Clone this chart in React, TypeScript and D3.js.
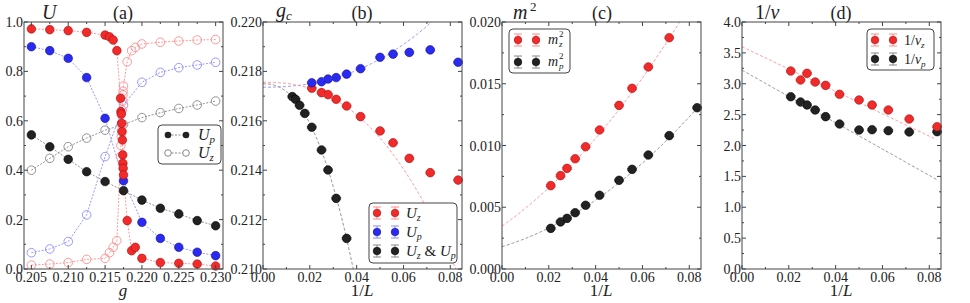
import React from 'react';
import * as d3 from 'd3';

// ---------- Panel (a) data ----------
const gA = [0.205, 0.2075, 0.21, 0.2125, 0.215, 0.2175, 0.22, 0.2225, 0.225, 0.2275, 0.23];
const blackUp = [0.543, 0.495, 0.444, 0.394, 0.354, 0.317, 0.279, 0.246, 0.223, 0.196, 0.175];
const blackUz = [0.4, 0.448, 0.495, 0.53, 0.562, 0.585, 0.613, 0.633, 0.65, 0.664, 0.68];
const blueUp = [0.9, 0.884, 0.853, 0.775, 0.61, 0.357, 0.189, 0.124, 0.088, 0.068, 0.054];
const blueUz = [0.066, 0.081, 0.111, 0.219, 0.455, 0.664, 0.756, 0.796, 0.815, 0.826, 0.837];
const gRed = [0.205, 0.2075, 0.21, 0.2125, 0.215, 0.2156, 0.2161, 0.2166, 0.2171, 0.21715, 0.2172, 0.21725, 0.2173,
  0.21735, 0.2174, 0.21742, 0.21745, 0.2175, 0.218, 0.2186, 0.2191, 0.22, 0.2225, 0.225, 0.2275, 0.23];
const redUp = [0.972, 0.969, 0.965, 0.958, 0.947, 0.94, 0.927, 0.884, 0.691, 0.637, 0.627, 0.59, 0.556, 0.522, 0.462,
  0.428, 0.408, 0.381, 0.196, 0.074, 0.088, 0.043, 0.026, 0.023, 0.02, 0.012];
const redUz = [0.016, 0.02, 0.026, 0.039, 0.043, 0.066, 0.088, 0.115, 0.455, 0.5, 0.536, 0.56, 0.583, 0.644, 0.68,
  0.705, 0.72, 0.741, 0.839, 0.884, 0.897, 0.911, 0.918, 0.923, 0.927, 0.929];

// ---------- Panel (b) data ----------
const Lb = [48, 40, 36, 32, 28, 24, 20, 18, 16, 14, 12];
const gcBlue = [0.21754, 0.21758, 0.21769, 0.21775, 0.21789, 0.21811, 0.21857, 0.2187, 0.21877, 0.21887, 0.21837];
const gcRed = [0.21732, 0.21714, 0.21706, 0.21687, 0.2166, 0.21617, 0.21559, 0.21511, 0.21448, 0.2139, 0.2136];
const Lblack = [80, 72, 64, 56, 48, 40, 36, 32, 28];
const gcBlack = [0.21698, 0.21687, 0.21663, 0.2163, 0.21574, 0.21482, 0.21401, 0.21286, 0.21124];
// fit curves: [gc, amplitude, exponent]
const fitBRed = [0.21756, -3.18, 2.42];
const fitBBlue = [0.21736, 1.136, 2.305];
const fitBBlack = [0.2175, -15.78, 2.35];

// ---------- Panel (c) data ----------
const Lc = [48, 40, 36, 32, 28, 24, 20, 18, 16, 14, 12];
const m2z = [0.00675, 0.00756, 0.00815, 0.00893, 0.0099, 0.01126, 0.01325, 0.01463, 0.01636, 0.01873];
const m2p = [0.00329, 0.00381, 0.0041, 0.00456, 0.00516, 0.00597, 0.00718, 0.00807, 0.00923, 0.0108, 0.01306];
// quadratic fits: [a, b, c]
const fitCRed = [0.00348, 0.1331, 1.1155];
const fitCBlack = [0.00181, 0.057, 0.93];

// ---------- Panel (d) data ----------
const Ld = [48, 40, 36, 32, 28, 24, 20, 18, 16, 14, 12];
const nuZ = [3.206, 3.061, 3.169, 3.028, 2.974, 2.829, 2.737, 2.656, 2.575, 2.429, 2.304];
const nuP = [2.79, 2.704, 2.656, 2.575, 2.467, 2.348, 2.251, 2.256, 2.24, 2.219, 2.224];
// linear fits: [a, b]
const fitDRed = [3.6, -18.1];
const fitDBlack = [3.22, -21.3];

// ---------- tick labels ----------
const ticksAx = [0.205, 0.21, 0.215, 0.22, 0.225, 0.23];
const ticksAxMinor = [0.2075, 0.2125, 0.2175, 0.2225, 0.2275];
const ticksAy = [0, 0.2, 0.4, 0.6, 0.8, 1.0];
const ticksAyMinor = [0.1, 0.3, 0.5, 0.7, 0.9];
const ticksLx = [0, 0.02, 0.04, 0.06, 0.08];
const ticksLxMinor = [0.01, 0.03, 0.05, 0.07];
const ticksBy = [0.21, 0.212, 0.214, 0.216, 0.218, 0.22];
const ticksByMinor = [0.211, 0.213, 0.215, 0.217, 0.219];
const ticksCy = [0, 0.005, 0.01, 0.015, 0.02];
const ticksCyMinor = [0.0025, 0.0075, 0.0125, 0.0175];
const ticksDy = [0, 0.5, 1, 1.5, 2, 2.5, 3, 3.5, 4];
const ticksDyMinor = [0.25, 0.75, 1.25, 1.75, 2.25, 2.75, 3.25, 3.75];

const FONT = "'Times New Roman', Times, 'Liberation Serif', Tinos, 'DejaVu Serif', 'Noto Serif', serif";
const TOP = 22, BOT = 269, PW = 199;
const AX = '#444';

const RED = '#f22a2a', REDE = '#a01010', REDL = '#ff8c8c';
const BLUE = '#2a2af2', BLUEE = '#10108a', BLUEL = '#8c8cff';
const BLK = '#222', BLKL = '#888';

type Sc = d3.ScaleLinear<number, number>;

const tStyle = { fontFamily: FONT };
const itStyle = { fontFamily: FONT, fontStyle: 'italic' as const };

function Frame(props: {
  x: Sc; y: Sc; xt: number[]; xm: number[]; yt: number[]; ym: number[]; xf: string; yf: string;
}) {
  const { x, y, xt, xm, yt, ym, xf, yf } = props;
  const [x0, x1] = x.range();
  const fx = d3.format(xf), fy = d3.format(yf);
  const els: any[] = [];
  xt.forEach((t, i) => {
    const px = x(t);
    els.push(<line key={'xt' + i} x1={px} x2={px} y1={BOT} y2={BOT - 4} stroke={AX} />);
    els.push(<line key={'xtt' + i} x1={px} x2={px} y1={TOP} y2={TOP + 4} stroke={AX} />);
    els.push(<text key={'xl' + i} x={px} y={281.5} textAnchor="middle" fontSize={14} style={tStyle} fill="#222">{fx(t)}</text>);
  });
  xm.forEach((t, i) => {
    const px = x(t);
    els.push(<line key={'xm' + i} x1={px} x2={px} y1={BOT} y2={BOT - 2} stroke={AX} />);
    els.push(<line key={'xmt' + i} x1={px} x2={px} y1={TOP} y2={TOP + 2} stroke={AX} />);
  });
  yt.forEach((t, i) => {
    const py = y(t);
    els.push(<line key={'yt' + i} x1={x0} x2={x0 + 4} y1={py} y2={py} stroke={AX} />);
    els.push(<line key={'ytr' + i} x1={x1} x2={x1 - 4} y1={py} y2={py} stroke={AX} />);
    els.push(<text key={'yl' + i} x={x0 - 1} y={py + 5} textAnchor="end" fontSize={14} style={tStyle} fill="#222">{fy(t)}</text>);
  });
  ym.forEach((t, i) => {
    const py = y(t);
    els.push(<line key={'ym' + i} x1={x0} x2={x0 + 2} y1={py} y2={py} stroke={AX} />);
    els.push(<line key={'ymr' + i} x1={x1} x2={x1 - 2} y1={py} y2={py} stroke={AX} />);
  });
  return (
    <g>
      <rect x={x0} y={TOP} width={x1 - x0} height={BOT - TOP} fill="none" stroke={AX} strokeWidth={1} />
      {els}
    </g>
  );
}

function Dot({ cx, cy, fill, edge, r = 4.3 }: any) {
  return <circle cx={cx} cy={cy} r={r} fill={fill} stroke={edge} strokeWidth={0.6} />;
}
function EDot({ cx, cy, fill, edge, light, r = 4.3 }: any) {
  return (
    <g>
      <line x1={cx - 5} x2={cx + 5} y1={cy - 0.8} y2={cy - 0.8} stroke={light} strokeWidth={1} />
      <line x1={cx - 5} x2={cx + 5} y1={cy + 0.8} y2={cy + 0.8} stroke={light} strokeWidth={1} />
      <circle cx={cx} cy={cy} r={r} fill={fill} stroke={edge} strokeWidth={0.6} />
    </g>
  );
}
function LegErr({ cx, cy, fill, edge, light }: any) {
  return (
    <g>
      <line x1={cx} x2={cx} y1={cy - 6} y2={cy + 6} stroke={light} strokeWidth={1} />
      <line x1={cx - 4} x2={cx + 4} y1={cy - 6} y2={cy - 6} stroke={light} strokeWidth={1} />
      <line x1={cx - 4} x2={cx + 4} y1={cy + 6} y2={cy + 6} stroke={light} strokeWidth={1} />
      <circle cx={cx} cy={cy} r={3.8} fill={fill} stroke={edge} strokeWidth={0.6} />
    </g>
  );
}

export default function App() {
  const xa = d3.scaleLinear().domain([0.204, 0.231]).range([24, 24 + PW]);
  const ya = d3.scaleLinear().domain([0, 1]).range([BOT, TOP]);
  const lineA = (gs: number[], vs: number[]) =>
    d3.line<number>().x((_, i) => xa(gs[i])).y(v => ya(v))(vs) || '';

  const xb = d3.scaleLinear().domain([0, 0.085]).range([263, 263 + PW]);
  const yb = d3.scaleLinear().domain([0.21, 0.22]).range([BOT, TOP]);
  const samp = d3.range(0, 0.08501, 0.0005);
  const powCurve = (p: number[]) =>
    d3.line<number>().x(v => xb(v)).y(v => yb(p[0] + p[1] * Math.pow(v, p[2])))(samp) || '';

  const xc = d3.scaleLinear().domain([0, 0.085]).range([502, 502 + PW]);
  const yc = d3.scaleLinear().domain([0, 0.02]).range([BOT, TOP]);
  const quad = (p: number[]) =>
    d3.line<number>().x(v => xc(v)).y(v => yc(p[0] + p[1] * v + p[2] * v * v))(samp) || '';

  const xd = d3.scaleLinear().domain([0, 0.085]).range([742, 742 + PW]);
  const yd = d3.scaleLinear().domain([0, 4]).range([BOT, TOP]);
  const sampD = d3.range(0, 0.08335, 0.0005);
  const lin = (p: number[]) =>
    d3.line<number>().x(v => xd(v)).y(v => yd(p[0] + p[1] * v))(sampD) || '';

  return (
    <svg width={970} height={303} style={{ position: 'absolute', left: 0, top: 0, background: '#fff' }}>
      <defs>
        <clipPath id="cb"><rect x={263} y={TOP} width={PW} height={BOT - TOP} /></clipPath>
        <clipPath id="cc"><rect x={502} y={TOP} width={PW} height={BOT - TOP} /></clipPath>
        <clipPath id="cd"><rect x={742} y={TOP} width={PW} height={BOT - TOP} /></clipPath>
      </defs>
      <rect x={0} y={0} width={970} height={303} fill="#fff" />

      {/* ===== Panel (a) ===== */}
      <g>
        <path d={lineA(gA, blackUz)} fill="none" stroke={BLKL} strokeWidth={0.9} strokeDasharray="2,1.5" />
        <path d={lineA(gA, blackUp)} fill="none" stroke={BLKL} strokeWidth={0.9} strokeDasharray="2,1.5" />
        <path d={lineA(gA, blueUz)} fill="none" stroke={BLUEL} strokeWidth={0.9} strokeDasharray="2,1.5" />
        <path d={lineA(gA, blueUp)} fill="none" stroke={BLUEL} strokeWidth={0.9} strokeDasharray="2,1.5" />
        <path d={lineA(gRed, redUz)} fill="none" stroke={REDL} strokeWidth={0.9} strokeDasharray="2,1.5" />
        <path d={lineA(gRed, redUp)} fill="none" stroke={REDL} strokeWidth={0.9} strokeDasharray="2,1.5" />
        {blackUz.map((v, i) => <circle key={'bz' + i} cx={xa(gA[i])} cy={ya(v)} r={4.3} fill="none" stroke={BLKL} strokeWidth={0.9} />)}
        {blackUp.map((v, i) => <Dot key={'bp' + i} cx={xa(gA[i])} cy={ya(v)} fill={BLK} edge="#000" />)}
        {blueUz.map((v, i) => <circle key={'uz' + i} cx={xa(gA[i])} cy={ya(v)} r={4.3} fill="none" stroke={BLUEL} strokeWidth={0.9} />)}
        {blueUp.map((v, i) => <Dot key={'up' + i} cx={xa(gA[i])} cy={ya(v)} fill={BLUE} edge={BLUEE} />)}
        {redUz.map((v, i) => <circle key={'rz' + i} cx={xa(gRed[i])} cy={ya(v)} r={4.3} fill="none" stroke={REDL} strokeWidth={0.9} />)}
        {redUp.map((v, i) => <Dot key={'rp' + i} cx={xa(gRed[i])} cy={ya(v)} fill={RED} edge={REDE} />)}
        <Frame x={xa} y={ya} xt={ticksAx} xm={ticksAxMinor} yt={ticksAy} ym={ticksAyMinor} xf=".3f" yf=".1f" />
        <rect x={158} y={125} width={63} height={39} rx={4} fill="#fff" stroke="#444" strokeWidth={1} />
        <line x1={168} x2={186} y1={135} y2={135} stroke={BLKL} strokeDasharray="2,1.5" />
        <circle cx={168} cy={135} r={3.3} fill={BLK} />
        <circle cx={186} cy={135} r={3.3} fill={BLK} />
        <line x1={168} x2={186} y1={153} y2={153} stroke={BLKL} strokeDasharray="2,1.5" />
        <circle cx={168} cy={153} r={3.3} fill="#fff" stroke={BLKL} />
        <circle cx={186} cy={153} r={3.3} fill="#fff" stroke={BLKL} />
        <text x={198} y={140} fontSize={16} style={itStyle} fill="#222">U<tspan fontSize={11} dy={3}>p</tspan></text>
        <text x={198} y={158} fontSize={16} style={itStyle} fill="#222">U<tspan fontSize={11} dy={3}>z</tspan></text>
        <text x={42} y={19} fontSize={20} style={itStyle} fill="#222">U</text>
        <text x={123} y={19} fontSize={18} textAnchor="middle" style={tStyle} fill="#222">(a)</text>
        <text x={123} y={296} fontSize={17} textAnchor="middle" style={itStyle} fill="#222">g</text>
      </g>

      {/* ===== Panel (b) ===== */}
      <g>
        <g clipPath="url(#cb)">
          <path d={powCurve(fitBBlue)} fill="none" stroke={BLUEL} strokeWidth={0.9} strokeDasharray="3,2" />
          <path d={powCurve(fitBRed)} fill="none" stroke={REDL} strokeWidth={0.9} strokeDasharray="3,2" />
          <path d={powCurve(fitBBlack)} fill="none" stroke={BLKL} strokeWidth={0.9} strokeDasharray="3,2" />
        </g>
        {gcBlack.map((v, i) => <EDot key={'k' + i} cx={xb(1 / Lblack[i])} cy={yb(v)} fill={BLK} edge="#000" light={BLKL} />)}
        {gcRed.map((v, i) => <EDot key={'r' + i} cx={xb(1 / Lb[i])} cy={yb(v)} fill={RED} edge={REDE} light={REDL} />)}
        {gcBlue.map((v, i) => <EDot key={'b' + i} cx={xb(1 / Lb[i])} cy={yb(v)} fill={BLUE} edge={BLUEE} light={BLUEL} />)}
        <Frame x={xb} y={yb} xt={ticksLx} xm={ticksLxMinor} yt={ticksBy} ym={ticksByMinor} xf=".2f" yf=".3f" />
        <rect x={369} y={203} width={88} height={60} rx={4} fill="#fff" stroke="#444" strokeWidth={1} />
        <LegErr cx={377} cy={213} fill={RED} edge={REDE} light={REDL} />
        <LegErr cx={395} cy={213} fill={RED} edge={REDE} light={REDL} />
        <LegErr cx={377} cy={232} fill={BLUE} edge={BLUEE} light={BLUEL} />
        <LegErr cx={395} cy={232} fill={BLUE} edge={BLUEE} light={BLUEL} />
        <LegErr cx={377} cy={251} fill={BLK} edge="#000" light={BLKL} />
        <LegErr cx={395} cy={251} fill={BLK} edge="#000" light={BLKL} />
        <text x={406} y={218} fontSize={15} style={itStyle} fill="#222">U<tspan fontSize={10} dy={3}>z</tspan></text>
        <text x={406} y={237} fontSize={15} style={itStyle} fill="#222">U<tspan fontSize={10} dy={3}>p</tspan></text>
        <text x={406} y={256} fontSize={15} style={itStyle} fill="#222">U<tspan fontSize={10} dy={3}>z</tspan><tspan dy={-3} fontStyle="normal"> &amp; </tspan>U<tspan fontSize={10} dy={3}>p</tspan></text>
        <text x={276} y={17} fontSize={20} style={itStyle} fill="#222">g<tspan fontSize={13} dy={3}>c</tspan></text>
        <text x={362} y={19} fontSize={18} textAnchor="middle" style={tStyle} fill="#222">(b)</text>
        <text x={362} y={296} fontSize={17} textAnchor="middle" style={tStyle} fill="#222">1/<tspan fontStyle="italic">L</tspan></text>
      </g>

      {/* ===== Panel (c) ===== */}
      <g>
        <g clipPath="url(#cc)">
          <path d={quad(fitCRed)} fill="none" stroke={REDL} strokeWidth={0.9} strokeDasharray="3,2" />
          <path d={quad(fitCBlack)} fill="none" stroke={BLKL} strokeWidth={0.9} strokeDasharray="3,2" />
        </g>
        {m2p.map((v, i) => <EDot key={'p' + i} cx={xc(1 / Lc[i])} cy={yc(v)} fill={BLK} edge="#000" light={BLKL} />)}
        {m2z.map((v, i) => <EDot key={'z' + i} cx={xc(1 / Lc[i])} cy={yc(v)} fill={RED} edge={REDE} light={REDL} />)}
        <Frame x={xc} y={yc} xt={ticksLx} xm={ticksLxMinor} yt={ticksCy} ym={ticksCyMinor} xf=".2f" yf=".3f" />
        <rect x={509} y={29} width={61} height={44} rx={4} fill="#fff" stroke="#444" strokeWidth={1} />
        <LegErr cx={518} cy={40} fill={RED} edge={REDE} light={REDL} />
        <LegErr cx={536} cy={40} fill={RED} edge={REDE} light={REDL} />
        <LegErr cx={518} cy={62} fill={BLK} edge="#000" light={BLKL} />
        <LegErr cx={536} cy={62} fill={BLK} edge="#000" light={BLKL} />
        <text x={548} y={44} fontSize={14} style={itStyle} fill="#222">m</text>
        <text x={559} y={37} fontSize={9} style={tStyle} fill="#222">2</text>
        <text x={559} y={47} fontSize={9} style={itStyle} fill="#222">z</text>
        <text x={548} y={66} fontSize={14} style={itStyle} fill="#222">m</text>
        <text x={559} y={59} fontSize={9} style={tStyle} fill="#222">2</text>
        <text x={559} y={69} fontSize={9} style={itStyle} fill="#222">p</text>
        <text x={513} y={19} fontSize={20} style={itStyle} fill="#222">m</text>
        <text x={530} y={11} fontSize={13} style={tStyle} fill="#222">2</text>
        <text x={602} y={19} fontSize={18} textAnchor="middle" style={tStyle} fill="#222">(c)</text>
        <text x={601} y={296} fontSize={17} textAnchor="middle" style={tStyle} fill="#222">1/<tspan fontStyle="italic">L</tspan></text>
      </g>

      {/* ===== Panel (d) ===== */}
      <g>
        <g clipPath="url(#cd)">
          <path d={lin(fitDRed)} fill="none" stroke={REDL} strokeWidth={0.9} strokeDasharray="3,2" />
          <path d={lin(fitDBlack)} fill="none" stroke={BLKL} strokeWidth={0.9} strokeDasharray="3,2" />
        </g>
        {nuP.map((v, i) => <EDot key={'p' + i} cx={xd(1 / Ld[i])} cy={yd(v)} fill={BLK} edge="#000" light={BLKL} />)}
        {nuZ.map((v, i) => <EDot key={'z' + i} cx={xd(1 / Ld[i])} cy={yd(v)} fill={RED} edge={REDE} light={REDL} />)}
        <Frame x={xd} y={yd} xt={ticksLx} xm={ticksLxMinor} yt={ticksDy} ym={ticksDyMinor} xf=".2f" yf=".1f" />
        <rect x={867} y={29} width={67} height={41} rx={4} fill="#fff" stroke="#444" strokeWidth={1} />
        <LegErr cx={875} cy={40} fill={RED} edge={REDE} light={REDL} />
        <LegErr cx={893} cy={40} fill={RED} edge={REDE} light={REDL} />
        <LegErr cx={875} cy={59} fill={BLK} edge="#000" light={BLKL} />
        <LegErr cx={893} cy={59} fill={BLK} edge="#000" light={BLKL} />
        <text x={904} y={45} fontSize={14} style={tStyle} fill="#222">1/<tspan fontStyle="italic">ν</tspan><tspan fontSize={9} dy={3} fontStyle="italic">z</tspan></text>
        <text x={904} y={64} fontSize={14} style={tStyle} fill="#222">1/<tspan fontStyle="italic">ν</tspan><tspan fontSize={9} dy={3} fontStyle="italic">p</tspan></text>
        <text x={755} y={19} fontSize={20} style={tStyle} fill="#222">1/<tspan fontStyle="italic">ν</tspan></text>
        <text x={841} y={19} fontSize={18} textAnchor="middle" style={tStyle} fill="#222">(d)</text>
        <text x={841} y={296} fontSize={17} textAnchor="middle" style={tStyle} fill="#222">1/<tspan fontStyle="italic">L</tspan></text>
      </g>
    </svg>
  );
}
